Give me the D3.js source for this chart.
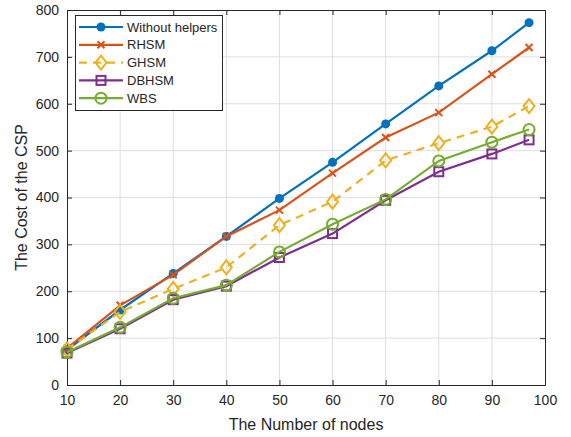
<!DOCTYPE html>
<html>
<head>
<meta charset="utf-8">
<script src="https://cdn.jsdelivr.net/npm/d3@7"></script>
<style>
  body { margin: 0; background: #fff; }
  text { font-family: "Liberation Sans", Arial, sans-serif; fill: #262626; }
</style>
</head>
<body>
<svg id="chart" width="571" height="437"></svg>
<script>
// values
var nodes = [10, 20, 30, 40, 50, 60, 70, 80, 90, 97];
var withoutHelpers = [75, 160, 238, 317, 398, 475, 557, 638, 713, 773];
var rhsm = [78, 170, 235, 317, 373, 452, 528, 581, 663, 720];
var ghsm = [76, 156, 205, 251, 341, 391, 479, 516, 551, 595];
var dbhsm = [68, 120, 182, 211, 272, 323, 394, 455, 493, 523];
var wbs = [70, 123, 185, 213, 284, 343, 396, 478, 518, 545];
var xTicks = [10, 20, 30, 40, 50, 60, 70, 80, 90, 100];
var yTicks = [0, 100, 200, 300, 400, 500, 600, 700, 800];

var series = [
  { name: 'Without helpers', values: withoutHelpers, color: '#0072BD', marker: 'dot' },
  { name: 'RHSM', values: rhsm, color: '#D95319', marker: 'cross' },
  { name: 'GHSM', values: ghsm, color: '#EDB120', marker: 'diamond', dash: '8,6' },
  { name: 'DBHSM', values: dbhsm, color: '#7E2F8E', marker: 'square' },
  { name: 'WBS', values: wbs, color: '#77AC30', marker: 'circle' }
];

var plotLeft = 67, plotRight = 545, plotTop = 10, plotBottom = 385;
var svg = d3.select('#chart');

var x = d3.scaleLinear().domain([10, 100]).range([plotLeft, plotRight]);
var y = d3.scaleLinear().domain([0, 800]).range([plotBottom, plotTop]);

// grid
var grid = svg.append('g');
grid.selectAll('.gx').data(xTicks.slice(1, -1)).enter().append('line')
    .attr('x1', function(d) { return x(d); }).attr('x2', function(d) { return x(d); })
    .attr('y1', plotTop).attr('y2', plotBottom)
    .attr('stroke', '#dfdfdf').attr('stroke-width', 1);
grid.selectAll('.gy').data(yTicks.slice(1, -1)).enter().append('line')
    .attr('y1', function(d) { return y(d); }).attr('y2', function(d) { return y(d); })
    .attr('x1', plotLeft).attr('x2', plotRight)
    .attr('stroke', '#dfdfdf').attr('stroke-width', 1);

// axes (ticks point inward like matlab)
var xAxis = d3.axisBottom(x).tickValues(xTicks).tickSizeInner(-5).tickSizeOuter(0).tickPadding(10);
var yAxis = d3.axisLeft(y).tickValues(yTicks).tickSizeInner(-5).tickSizeOuter(0).tickPadding(8);
var gx = svg.append('g').attr('transform', 'translate(0,' + plotBottom + ')').call(xAxis);
var gy = svg.append('g').attr('transform', 'translate(' + plotLeft + ',0)').call(yAxis);
var gxTop = svg.append('g').attr('transform', 'translate(0,' + plotTop + ')')
    .call(d3.axisTop(x).tickValues(xTicks).tickSizeInner(-5).tickSizeOuter(0).tickFormat(''));
var gyRight = svg.append('g').attr('transform', 'translate(' + plotRight + ',0)')
    .call(d3.axisRight(y).tickValues(yTicks).tickSizeInner(-5).tickSizeOuter(0).tickFormat(''));
[gx, gy, gxTop, gyRight].forEach(function(g) {
  g.selectAll('path').attr('stroke', '#262626');
  g.selectAll('line').attr('stroke', '#262626');
  g.selectAll('text').attr('font-size', 14).attr('fill', '#262626')
    .attr('font-family', '"Liberation Sans", Arial, sans-serif');
});

svg.append('text')
    .attr('x', (plotLeft + plotRight) / 2).attr('y', 430)
    .attr('text-anchor', 'middle').attr('font-size', 16)
    .text('The Number of nodes');
svg.append('text')
    .attr('transform', 'translate(27,' + ((plotTop + plotBottom) / 2) + ') rotate(-90)')
    .attr('text-anchor', 'middle').attr('font-size', 16)
    .text('The Cost of the CSP');

function drawMarker(g, type, cx, cy, color) {
  if (type === 'dot') {
    g.append('circle').attr('cx', cx).attr('cy', cy).attr('r', 4.5).attr('fill', color);
  } else if (type === 'circle') {
    g.append('circle').attr('cx', cx).attr('cy', cy).attr('r', 5.5)
        .attr('fill', 'none').attr('stroke', color).attr('stroke-width', 2);
  } else if (type === 'square') {
    g.append('rect').attr('x', cx - 4.5).attr('y', cy - 4.5).attr('width', 9).attr('height', 9)
        .attr('fill', 'none').attr('stroke', color).attr('stroke-width', 2);
  } else if (type === 'diamond') {
    g.append('path').attr('d', 'M' + cx + ',' + (cy - 7) + 'L' + (cx + 5.5) + ',' + cy +
        'L' + cx + ',' + (cy + 7) + 'L' + (cx - 5.5) + ',' + cy + 'Z')
        .attr('fill', 'none').attr('stroke', color).attr('stroke-width', 2);
  } else if (type === 'cross') {
    var s = 3.5;
    g.append('path').attr('d', 'M' + (cx - s) + ',' + (cy - s) + 'L' + (cx + s) + ',' + (cy + s) +
        'M' + (cx - s) + ',' + (cy + s) + 'L' + (cx + s) + ',' + (cy - s))
        .attr('stroke', color).attr('stroke-width', 2);
  }
}

var line = d3.line()
    .x(function(d) { return x(d[0]); })
    .y(function(d) { return y(d[1]); });

series.forEach(function(s) {
  var pts = nodes.map(function(n, i) { return [n, s.values[i]]; });
  var g = svg.append('g');
  g.append('path').datum(pts).attr('d', line)
      .attr('fill', 'none').attr('stroke', s.color).attr('stroke-width', 2.2)
      .attr('stroke-dasharray', s.dash || null);
  pts.forEach(function(p) { drawMarker(g, s.marker, x(p[0]), y(p[1]), s.color); });
});

// legend
var legend = svg.append('g');
legend.append('rect').attr('x', 75.5).attr('y', 15.5).attr('width', 147).attr('height', 95)
    .attr('fill', '#fff').attr('stroke', '#262626').attr('stroke-width', 1);
series.forEach(function(s, i) {
  var ly = 27 + i * 17.8;
  legend.append('line').attr('x1', 79).attr('x2', 123).attr('y1', ly).attr('y2', ly)
      .attr('stroke', s.color).attr('stroke-width', 2.2).attr('stroke-dasharray', s.dash || null);
  drawMarker(legend, s.marker, 101, ly, s.color);
  legend.append('text').attr('x', 127).attr('y', ly + 4.5).attr('font-size', 13).text(s.name);
});
</script>
</body>
</html>
